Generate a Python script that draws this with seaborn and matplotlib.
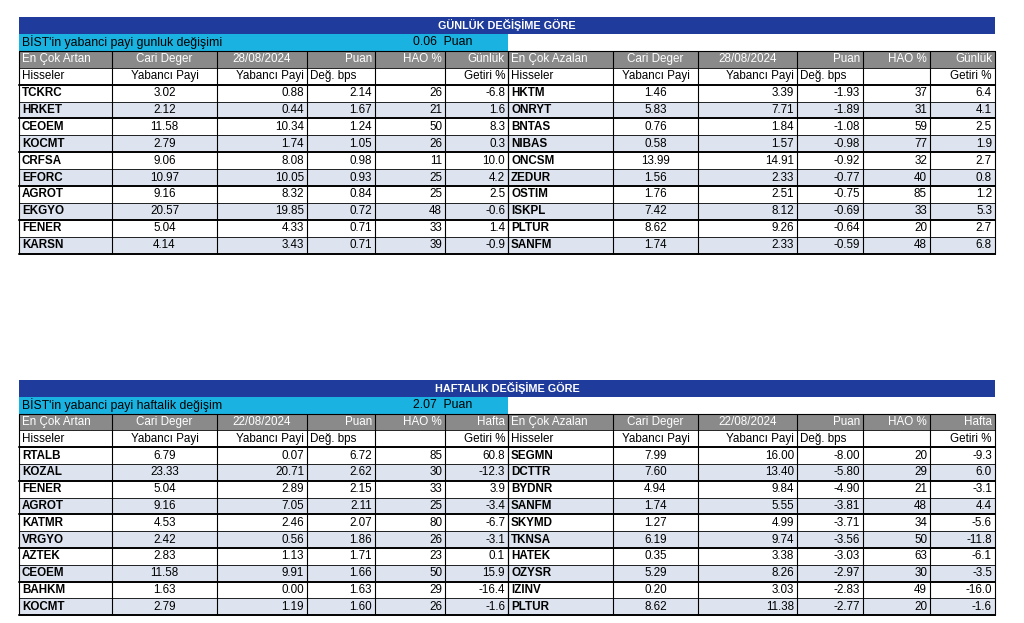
import matplotlib
matplotlib.use("Agg")
import matplotlib.pyplot as plt
from matplotlib.patches import Rectangle
import seaborn as sns

sns.set_theme(style="white")
plt.rcParams["font.family"] = ["Liberation Sans", "DejaVu Sans"]

NAVY = "#1f3b9b"
CYAN = "#1ab2e0"
GRAY = "#8a8a8a"
STRIPE = "#dde4ef"

# --- günlük ---
g_up_names = ["TCKRC", "HRKET", "CEOEM", "KOCMT", "CRFSA", "EFORC", "AGROT", "EKGYO", "FENER", "KARSN"]
g_up_cari = ["3.02", "2.12", "11.58", "2.79", "9.06", "10.97", "9.16", "20.57", "5.04", "4.14"]
g_up_prev = ["0.88", "0.44", "10.34", "1.74", "8.08", "10.05", "8.32", "19.85", "4.33", "3.43"]
g_up_bps = ["2.14", "1.67", "1.24", "1.05", "0.98", "0.93", "0.84", "0.72", "0.71", "0.71"]
g_up_hao = ["26", "21", "50", "26", "11", "25", "25", "48", "33", "39"]
g_up_ret = ["-6.8", "1.6", "8.3", "0.3", "10.0", "4.2", "2.5", "-0.6", "1.4", "-0.9"]

g_dn_names = ["HKTM", "ONRYT", "BNTAS", "NIBAS", "ONCSM", "ZEDUR", "OSTIM", "ISKPL", "PLTUR", "SANFM"]
g_dn_cari = ["1.46", "5.83", "0.76", "0.58", "13.99", "1.56", "1.76", "7.42", "8.62", "1.74"]
g_dn_prev = ["3.39", "7.71", "1.84", "1.57", "14.91", "2.33", "2.51", "8.12", "9.26", "2.33"]
g_dn_bps = ["-1.93", "-1.89", "-1.08", "-0.98", "-0.92", "-0.77", "-0.75", "-0.69", "-0.64", "-0.59"]
g_dn_hao = ["37", "31", "59", "77", "32", "40", "85", "33", "20", "48"]
g_dn_ret = ["6.4", "4.1", "2.5", "1.9", "2.7", "0.8", "1.2", "5.3", "2.7", "6.8"]

# --- haftalık ---
h_up_names = ["RTALB", "KOZAL", "FENER", "AGROT", "KATMR", "VRGYO", "AZTEK", "CEOEM", "BAHKM", "KOCMT"]
h_up_cari = ["6.79", "23.33", "5.04", "9.16", "4.53", "2.42", "2.83", "11.58", "1.63", "2.79"]
h_up_prev = ["0.07", "20.71", "2.89", "7.05", "2.46", "0.56", "1.13", "9.91", "0.00", "1.19"]
h_up_bps = ["6.72", "2.62", "2.15", "2.11", "2.07", "1.86", "1.71", "1.66", "1.63", "1.60"]
h_up_hao = ["85", "30", "33", "25", "80", "26", "23", "50", "29", "26"]
h_up_ret = ["60.8", "-12.3", "3.9", "-3.4", "-6.7", "-3.1", "0.1", "15.9", "-16.4", "-1.6"]

h_dn_names = ["SEGMN", "DCTTR", "BYDNR", "SANFM", "SKYMD", "TKNSA", "HATEK", "OZYSR", "IZINV", "PLTUR"]
h_dn_cari = ["7.99", "7.60", "4.94", "1.74", "1.27", "6.19", "0.35", "5.29", "0.20", "8.62"]
h_dn_prev = ["16.00", "13.40", "9.84", "5.55", "4.99", "9.74", "3.38", "8.26", "3.03", "11.38"]
h_dn_bps = ["-8.00", "-5.80", "-4.90", "-3.81", "-3.71", "-3.56", "-3.03", "-2.97", "-2.83", "-2.77"]
h_dn_hao = ["20", "29", "21", "48", "34", "50", "63", "30", "49", "20"]
h_dn_ret = ["-9.3", "6.0", "-3.1", "4.4", "-5.6", "-11.8", "-6.1", "-3.5", "-16.0", "-1.6"]

LEFT_COLS = [19, 112, 217, 307, 375, 445, 508]
RIGHT_COLS = [508, 613, 698, 797, 863, 930, 995]

fig = plt.figure(figsize=(10.24, 6.23), dpi=100)
ax = fig.add_axes([0, 0, 1, 1])
ax.set_xlim(0, 1024)
ax.set_ylim(623, 0)
ax.axis("off")
FS = 8.4


def txt(x, y, s, ha="left", color="black", weight="normal", size=FS):
    ax.text(x, y, s, ha=ha, va="center", color=color, fontweight=weight, fontsize=size)


def put(a, b, y, s, align, **kw):
    if align == "left":
        txt(a + 3, y, s, **kw)
    elif align == "center":
        txt((a + b) / 2, y, s, ha="center", **kw)
    else:
        txt(b - 3, y, s, ha="right", **kw)


def block(cols, y0, rh, head1, head2, cols_data):
    x0, x1 = cols[0], cols[-1]
    ax.add_patch(Rectangle((x0, y0), x1 - x0, rh, fc=GRAY, ec="none"))
    ys = [y0 + rh * (i + 2) for i in range(10)]
    for i, y in enumerate(ys):
        if i % 2 == 1:
            ax.add_patch(Rectangle((x0, y), x1 - x0, rh, fc=STRIPE, ec="none"))
    aligns = ["left", "center", "right", "right", "right", "right"]
    h1_align = ["left", "center", "center", "right", "right", "right"]
    h2_align = ["left", "center", "right", "left", "right", "right"]
    for j in range(6):
        a, b = cols[j], cols[j + 1]
        put(a, b, y0 + rh / 2, head1[j], h1_align[j], color="white")
        put(a, b, y0 + rh * 1.5, head2[j], h2_align[j])
        for i, y in enumerate(ys):
            put(a, b, y + rh / 2, cols_data[j][i], aligns[j],
                weight="bold" if j == 0 else "normal")
    yb = y0 + rh * 12
    for x in cols:
        ax.plot([x, x], [y0, yb], color="black", lw=0.8)
    ax.plot([x0, x1], [y0 + rh, y0 + rh], color="black", lw=0.6)
    for i in range(11):
        yy = y0 + rh * (i + 2)
        ax.plot([x0, x1], [yy, yy], color="black", lw=1.4 if i % 2 == 0 else 0.6)
    ax.plot([x0, x1], [y0, y0], color="black", lw=0.8)


def table(y0, rh, title, sub, val, date, ret1, up, dn):
    ax.add_patch(Rectangle((19, y0), 976, rh, fc=NAVY, ec="none"))
    txt(507, y0 + rh / 2, title, ha="center", color="white", weight="bold", size=7.8)
    ax.add_patch(Rectangle((19, y0 + rh), 489, rh, fc=CYAN, ec="none"))
    txt(22, y0 + rh * 1.5, sub, size=8.8)
    txt(413, y0 + rh * 1.5, f"{val}  Puan", size=8.8)
    h1l = ["En Çok Artan", "Cari Deger", date, "Puan", "HAO %", ret1]
    h1r = ["En Çok Azalan", "Cari Deger", date, "Puan", "HAO %", ret1]
    h2 = ["Hisseler", "Yabancı Payi", "Yabancı Payi", "Değ. bps", "", "Getiri %"]
    block(LEFT_COLS, y0 + 2 * rh, rh, h1l, h2, up)
    block(RIGHT_COLS, y0 + 2 * rh, rh, h1r, h2, dn)


table(17, 16.9, "GÜNLÜK DEĞİŞİME GÖRE", "BİST'in yabanci payi gunluk değişimi", "0.06", "28/08/2024", "Günlük",
      [g_up_names, g_up_cari, g_up_prev, g_up_bps, g_up_hao, g_up_ret],
      [g_dn_names, g_dn_cari, g_dn_prev, g_dn_bps, g_dn_hao, g_dn_ret])
table(380, 16.8, "HAFTALIK DEĞİŞİME GÖRE", "BİST'in yabanci payi haftalik değişim", "2.07", "22/08/2024", "Hafta",
      [h_up_names, h_up_cari, h_up_prev, h_up_bps, h_up_hao, h_up_ret],
      [h_dn_names, h_dn_cari, h_dn_prev, h_dn_bps, h_dn_hao, h_dn_ret])

fig.savefig("out.png", dpi=100)
